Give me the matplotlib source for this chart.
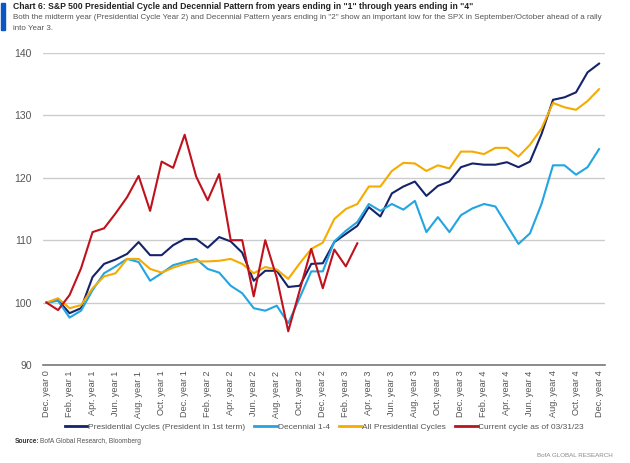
import matplotlib.pyplot as plt
from matplotlib.lines import Line2D

# month index 0 = Dec. year 0 ... 48 = Dec. year 4
MONTHS = ['Dec.', 'Jan.', 'Feb.', 'Mar.', 'Apr.', 'May', 'Jun.', 'Jul.', 'Aug.', 'Sep.', 'Oct.', 'Nov.']
TICK_LABELS = []
for i in range(0, 49, 2):
    yr = (i + 11) // 12
    TICK_LABELS.append(f'{MONTHS[i % 12]} year {yr}')

PRES_FIRST = [100, 100.4, 98.3, 99.1, 104.1, 106.2, 106.9, 107.8, 109.7, 107.6,
              107.6, 109.2, 110.2, 110.2, 108.8, 110.5, 109.8, 108.0, 103.5, 105.1,
              105.1, 102.5, 102.7, 106.2, 106.3, 109.7, 111.0, 112.3, 115.3, 113.8,
              117.5, 118.6, 119.4, 117.1, 118.7, 119.4, 121.7, 122.3, 122.1, 122.1,
              122.5, 121.7, 122.6, 127.0, 132.5, 132.9, 133.7, 136.9, 138.3]
DECENNIAL = [100, 100.3, 97.6, 98.7, 102.0, 104.7, 105.8, 107.0, 106.5, 103.5,
             104.7, 106.0, 106.5, 107.0, 105.4, 104.8, 102.7, 101.5, 99.1, 98.7,
             99.5, 96.7, 100.8, 105.0, 105.0, 109.8, 111.5, 112.9, 115.8, 114.7,
             115.8, 114.9, 116.3, 111.3, 113.7, 111.3, 114.0, 115.1, 115.8, 115.4,
             112.4, 109.4, 111.1, 115.8, 122.0, 122.0, 120.5, 121.7, 124.6]
ALL_PRES = [100, 100.7, 99.1, 99.6, 102.3, 104.2, 104.7, 107.0, 107.0, 105.4,
            104.8, 105.6, 106.2, 106.6, 106.6, 106.7, 107.0, 106.2, 104.7, 105.7,
            105.3, 103.8, 106.3, 108.6, 109.6, 113.4, 115.0, 115.8, 118.6, 118.6,
            121.1, 122.4, 122.3, 121.1, 122.0, 121.5, 124.2, 124.2, 123.8, 124.8,
            124.8, 123.4, 125.3, 127.9, 132.0, 131.3, 130.9, 132.3, 134.2]
CURRENT = [100, 98.8, 101.2, 105.5, 111.3, 111.9, 114.3, 116.9, 120.3, 114.7,
           122.6, 121.6, 126.9, 120.2, 116.4, 120.6, 110.0, 110.0, 101.0, 110.0,
           104.0, 95.4, 102.0, 108.6, 102.3, 108.5, 105.8, 109.5]

SERIES = [
    ('Presidential Cycles (President in 1st term)', PRES_FIRST, '#15236b'),
    ('Decennial 1-4', DECENNIAL, '#22a5e0'),
    ('All Presidential Cycles', ALL_PRES, '#f5ab00'),
    ('Current cycle as of 03/31/23', CURRENT, '#c0121c'),
]

plt.rcParams['font.family'] = ['Liberation Sans', 'DejaVu Sans']
grey = '#555555'

fig = plt.figure(figsize=(6.3, 4.63), dpi=100)
ax = fig.add_axes([0.068, 0.2117, 0.892, 0.6738])

for name, vals, col in SERIES:
    ax.plot(range(len(vals)), vals, color=col, lw=1.5, label=name, zorder=3)

ax.set_xlim(-0.32, 48.5)
ax.set_ylim(90, 140)
ax.set_yticks([90, 100, 110, 120, 130, 140])
ax.set_xticks(range(0, 49, 2))
ax.set_xticklabels(TICK_LABELS, rotation=90, fontsize=6.6, color=grey)
ax.tick_params(axis='y', labelsize=7.5, labelcolor=grey, length=0, pad=8)
ax.tick_params(axis='x', length=0, pad=4)
for v in [100, 110, 120, 130, 140]:
    ax.axhline(v, color='#cccccc', lw=1, zorder=1)
for s in ['top', 'right', 'left']:
    ax.spines[s].set_visible(False)
ax.spines['bottom'].set_color('#777777')
ax.spines['bottom'].set_linewidth(1.2)

handles = [Line2D([0], [0], color=c, lw=2) for _, _, c in SERIES]
fig.legend(handles, [n for n, _, _ in SERIES], loc='center', bbox_to_anchor=(0.515, 0.078),
           ncol=4, frameon=False, fontsize=6, handlelength=2.7, handletextpad=0.1,
           columnspacing=1.1, labelcolor=grey)

# header
fig.patches.append(plt.Rectangle((0.002, 0.935), 0.006, 0.058, transform=fig.transFigure,
                                 color='#0a56c4', figure=fig))
fig.text(0.02, 0.985, 'Chart 6: S&P 500 Presidential Cycle and Decennial Pattern from years ending in "1" through years ending in "4"',
         fontsize=6.2, fontweight='bold', color='#222222', va='center')
fig.text(0.02, 0.962, 'Both the midterm year (Presidential Cycle Year 2) and Decennial Pattern years ending in "2" show an important low for the SPX in September/October ahead of a rally',
         fontsize=5.8, color=grey, va='center')
fig.text(0.02, 0.939, 'into Year 3.', fontsize=5.8, color=grey, va='center')

fig.text(0.024, 0.047, 'Source:', fontsize=4.8, fontweight='bold', color='#333333', va='center')
fig.text(0.063, 0.047, 'BofA Global Research, Bloomberg', fontsize=4.8, color=grey, va='center')
fig.text(0.972, 0.017, 'BofA GLOBAL RESEARCH', fontsize=4.5, color='#888888', va='center', ha='right')

fig.savefig('out.png', dpi=100)
